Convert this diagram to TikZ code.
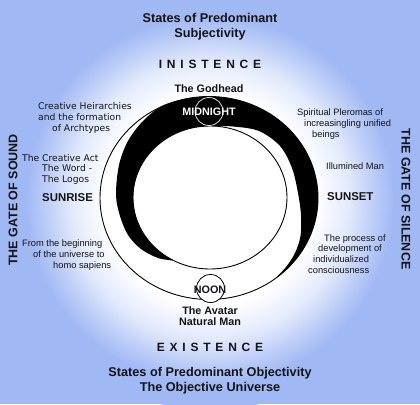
\documentclass[tikz,border=0pt]{standalone}
\usepackage{fontspec}
\setmainfont{Liberation Sans}
\newfontfamily\techfont{DejaVu Sans}
\newfontfamily\spacedfont[LetterSpace=40]{Liberation Sans}
\definecolor{bg}{RGB}{160,184,244}
\definecolor{ink}{RGB}{20,20,24}
\pgfdeclareradialshading{glow}{\pgfpoint{0bp}{0bp}}{color(0bp)=(white); color(12.5bp)=(white); color(16.5bp)=(bg!30!white); color(19.5bp)=(bg!70!white); color(22bp)=(bg); color(25bp)=(bg); color(50bp)=(bg)}
\tikzset{
 head/.style={font=\fontsize{12.7}{15}\selectfont\bfseries, text=ink, align=center, inner sep=0pt},
 spacedhead/.style={font=\fontsize{12}{14}\spacedfont\bfseries, text=ink, inner sep=0pt},
 lab/.style={font=\fontsize{10.8}{11}\selectfont\bfseries, text=ink, align=center, inner sep=0pt},
 tech/.style={font=\fontsize{9.2}{10.7}\techfont, text=ink, align=left, inner sep=0pt, anchor=west},
 body/.style={font=\fontsize{9.3}{10.7}\selectfont, text=ink, align=left, inner sep=0pt, anchor=west},
 gate/.style={font=\fontsize{12.5}{14}\selectfont\bfseries, text=ink, inner sep=0pt},
 sun/.style={font=\fontsize{11.4}{13}\selectfont\bfseries, text=ink, inner sep=0pt, anchor=west},
 ring/.style={draw=black, line width=0.9pt},
}
\begin{document}
\begin{tikzpicture}[x=1pt,y=-1pt]
\useasboundingbox (0,0) rectangle (420,404);
\clip (0,0) rectangle (420,404);
\fill[bg] (0,0) rectangle (420,404);
\shade[shading=glow] (210,200) circle[radius=210];
% outer circle
\filldraw[fill=white, ring] (209,198) ellipse[x radius=109, y radius=101.5];
% black crescent
\fill[black] (185.0,99.0) arc[start angle=-102.7, end angle=53, x radius=109, y radius=101.5]
  -- plot[smooth, tension=0.55] coordinates {(274.6,279.1) (286,267) (295,253) (300.5,236) (301,215) (298,193) (292,168) (280,146) (259,131) (233,126.5) (210,126)}
  arc[start angle=-90, end angle=-242, x radius=77, y radius=71.5]
  -- plot[smooth, tension=0.55] coordinates {(173.9,260.6) (158,258) (141,249) (128,235) (120,216) (116,195) (119,165) (128,141) (143,121) (162,106) (185,99)} -- cycle;
% inner circle
\draw[ring] (210,197.5) ellipse[x radius=77, y radius=71.5];
% midnight and noon markers
\draw[gray!30, line width=0.8pt] (209,111.5) circle[radius=14];
\filldraw[fill=white, draw=black, line width=0.8pt] (210.5,288.5) circle[radius=14];
% texts
\node[head] (top) at (210,26.5) {States of Predominant\\Subjectivity};
\node[spacedhead] (inis) at (210,64) {INISTENCE};
\node[lab] (god) at (209,89) {The Godhead};
\node[lab, text=white] (mid) at (209,111.5) {MIDNIGHT};
\node[lab] (noon) at (210,289.5) {NOON};
\node[lab] (avatar) at (210,316.5) {The Avatar\\Natural Man};
\node[spacedhead] (exis) at (210,347) {EXISTENCE};
\node[head] (bot) at (210,380.5) {States of Predominant Objectivity\\The Objective Universe};
\node[tech] (hier) at (38,118) {Creative Heirarchies\\and the formation\\\hspace*{14pt}of Archtypes};
\node[tech] (act) at (22,169.4) {The Creative Act\\\hspace*{20pt}The Word -\\\hspace*{20pt}The Logos};
\node[sun] (sunrise) at (42,198) {SUNRISE};
\node[body] (begin) at (22,255) {From the beginning\\\hspace*{11pt}of the universe to\\\hspace*{31pt}homo sapiens};
\node[body] (pler) at (297,124) {Spiritual Pleromas of\\\hspace*{7pt}increasingling unified\\\hspace*{15pt}beings};
\node[body] (illum) at (326,166) {Illumined Man};
\node[sun] (sunset) at (327,197) {SUNSET};
\node[body] (proc) at (308,254) {\hspace*{16pt}The process of\\\hspace*{10pt}development of\\\hspace*{5pt}individualized\\consciousness};
\node[gate, rotate=90] (sound) at (13,200) {THE GATE OF SOUND};
\node[gate, rotate=-90] (silence) at (406,199) {THE GATE OF SILENCE};
\end{tikzpicture}
\end{document}
